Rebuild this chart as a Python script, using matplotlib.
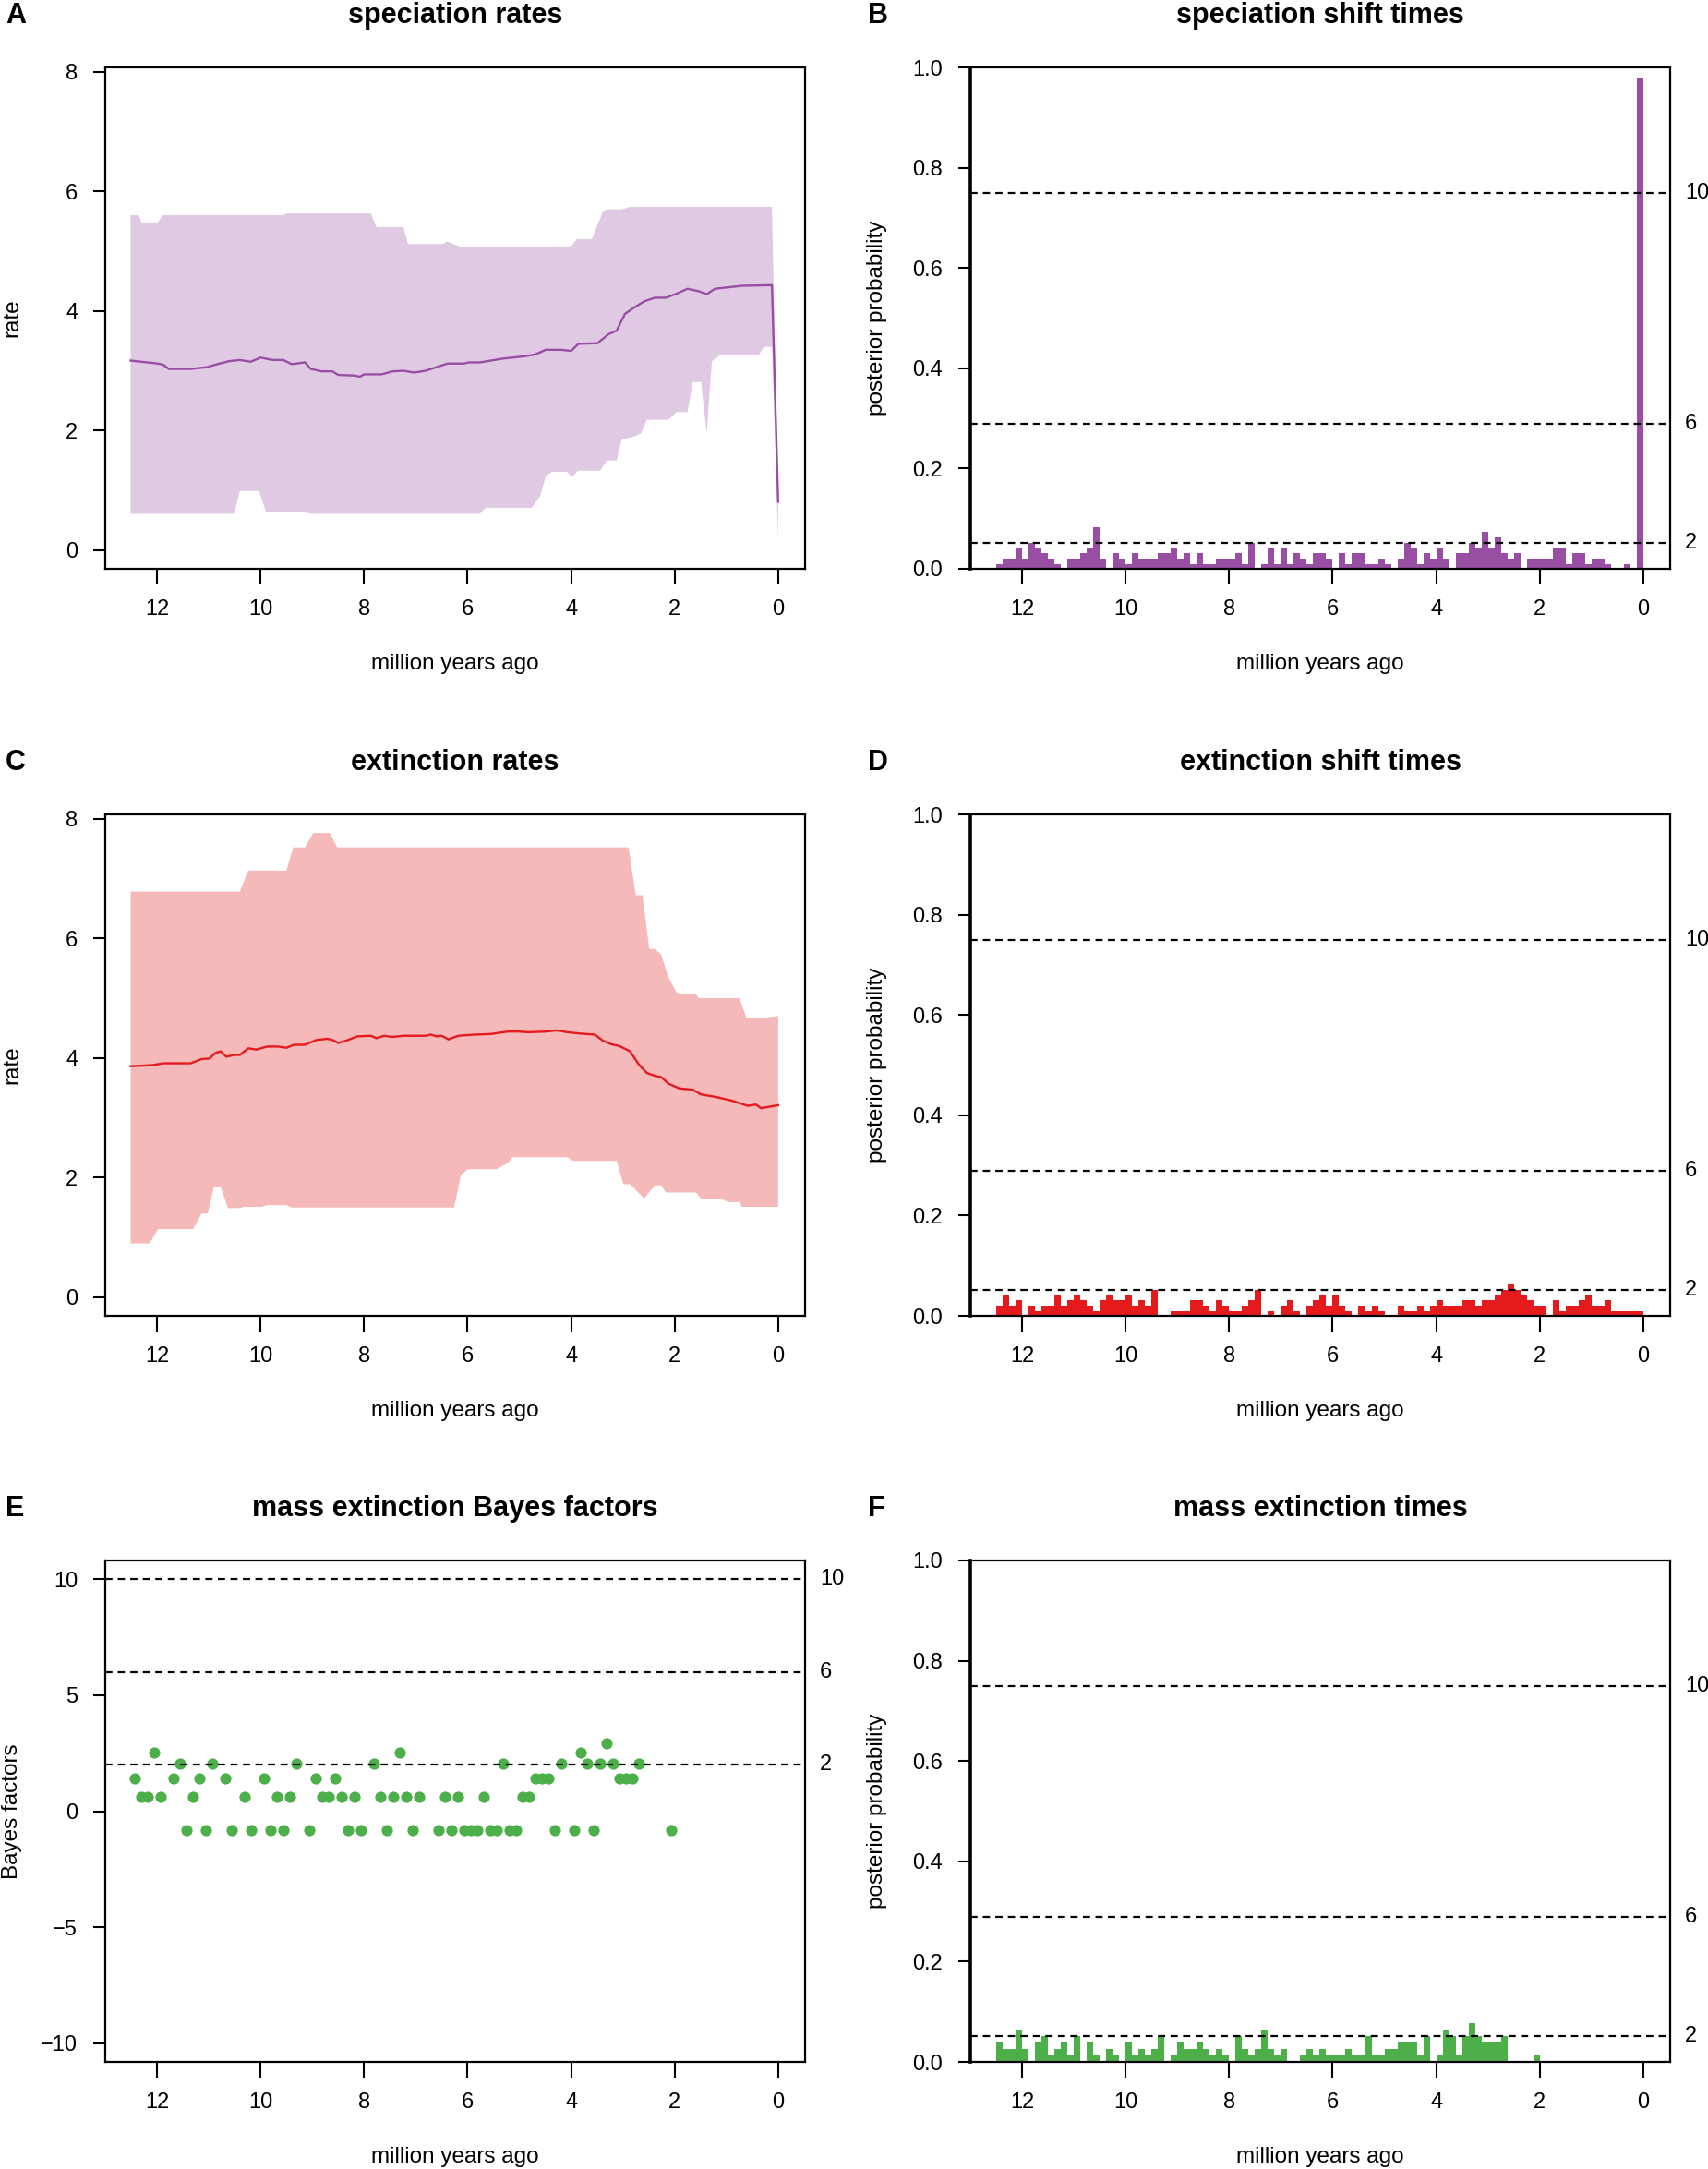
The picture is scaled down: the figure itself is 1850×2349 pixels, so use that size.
import matplotlib.pyplot as plt
import matplotlib.transforms as mtransforms
import numpy as np

plt.rcParams['font.family'] = ['Liberation Sans', 'DejaVu Sans']

# ---- data ----
# speciation rate: posterior mean and 95% band (time in Myr ago)
spec_t = [12.51, 11.98, 11.88, 11.77, 11.35, 11.03, 10.88, 10.61, 10.40, 10.19,
          10.0, 9.77, 9.56, 9.40, 9.14, 9.03, 8.82, 8.61, 8.50, 8.19,
          8.08, 8.0, 7.66, 7.45, 7.24, 7.03, 6.81, 6.60, 6.39, 6.08,
          5.97, 5.76, 5.55, 5.34, 5.13, 4.92, 4.70, 4.49, 4.18, 4.0,
          3.86, 3.49, 3.28, 3.12, 2.96, 2.81, 2.59, 2.38, 2.17, 1.96,
          1.75, 1.54, 1.38, 1.22, 0.91, 0.70, 0.12, 0.0]
spec_mean = [3.17, 3.12, 3.10, 3.03, 3.03, 3.06, 3.10, 3.16, 3.18, 3.15,
             3.22, 3.18, 3.18, 3.11, 3.14, 3.03, 2.99, 2.99, 2.93, 2.92,
             2.90, 2.94, 2.94, 2.99, 3.00, 2.97, 3.00, 3.06, 3.12, 3.12,
             3.14, 3.14, 3.17, 3.20, 3.22, 3.24, 3.27, 3.35, 3.35, 3.33,
             3.45, 3.46, 3.61, 3.67, 3.95, 4.04, 4.16, 4.22, 4.22, 4.29,
             4.37, 4.33, 4.28, 4.37, 4.40, 4.42, 4.43, 0.81]
spec_up_t = [12.51, 12.35, 12.30, 11.98, 11.90, 9.56, 9.50, 7.87, 7.76, 7.24,
             7.15, 6.48, 6.39, 6.28, 6.13, 5.34, 4.0, 3.89, 3.60, 3.39,
             3.31, 3.02, 2.86, 0.12, 0.0]
spec_up = [5.60, 5.60, 5.48, 5.48, 5.60, 5.60, 5.63, 5.63, 5.40, 5.40,
           5.12, 5.12, 5.16, 5.12, 5.07, 5.07, 5.08, 5.20, 5.20, 5.65,
           5.70, 5.70, 5.74, 5.74, 0.95]
spec_lo_t = [12.51, 10.51, 10.40, 10.03, 9.89, 9.14, 9.03, 5.76, 5.65, 4.76,
             4.60, 4.49, 4.37, 4.07, 4.0, 3.86, 3.44, 3.31, 3.12, 3.02,
             2.86, 2.65, 2.54, 2.12, 1.96, 1.75, 1.65, 1.49, 1.38, 1.28,
             1.12, 0.38, 0.27, 0.12, 0.0]
spec_lo = [0.61, 0.61, 0.99, 0.99, 0.63, 0.63, 0.61, 0.61, 0.71, 0.71,
           0.90, 1.24, 1.31, 1.31, 1.22, 1.33, 1.33, 1.50, 1.50, 1.86,
           1.88, 1.95, 2.18, 2.18, 2.31, 2.31, 2.81, 2.81, 1.95, 3.16,
           3.26, 3.26, 3.40, 3.40, 0.15]

# extinction rate
ext_t = [12.51, 12.30, 12.09, 11.88, 11.35, 11.14, 10.98, 10.88, 10.77, 10.66,
         10.51, 10.40, 10.24, 10.08, 9.87, 9.66, 9.50, 9.35, 9.14, 8.92,
         8.71, 8.61, 8.50, 8.34, 8.13, 7.87, 7.76, 7.61, 7.45, 7.24,
         6.81, 6.71, 6.60, 6.50, 6.37, 6.18, 5.86, 5.55, 5.23, 5.02,
         4.81, 4.49, 4.28, 4.07, 3.86, 3.54, 3.39, 3.23, 3.07, 2.86,
         2.70, 2.54, 2.38, 2.26, 2.12, 1.91, 1.65, 1.49, 1.22, 0.91,
         0.59, 0.43, 0.33, 0.0]
ext_mean = [3.86, 3.87, 3.88, 3.91, 3.91, 3.98, 3.99, 4.08, 4.11, 4.02,
            4.05, 4.05, 4.16, 4.14, 4.19, 4.19, 4.17, 4.22, 4.22, 4.30,
            4.32, 4.30, 4.25, 4.29, 4.36, 4.37, 4.33, 4.37, 4.35, 4.37,
            4.37, 4.39, 4.36, 4.37, 4.31, 4.37, 4.39, 4.40, 4.44, 4.44,
            4.43, 4.44, 4.46, 4.43, 4.41, 4.39, 4.29, 4.23, 4.20, 4.11,
            3.90, 3.75, 3.70, 3.68, 3.57, 3.49, 3.47, 3.39, 3.35, 3.29,
            3.20, 3.22, 3.16, 3.21]
ext_up_t = [12.51, 10.40, 10.24, 9.50, 9.37, 9.14, 8.98, 8.66, 8.52, 2.89,
            2.75, 2.62, 2.49, 2.38, 2.26, 2.12, 1.96, 1.86, 1.59, 1.54,
            0.75, 0.61, 0.27, 0.0]
ext_up = [6.78, 6.78, 7.13, 7.13, 7.52, 7.52, 7.76, 7.76, 7.52, 7.52,
          6.72, 6.72, 5.82, 5.82, 5.73, 5.35, 5.09, 5.07, 5.07, 5.00,
          5.00, 4.67, 4.67, 4.70]
ext_lo_t = [12.51, 12.14, 11.98, 11.30, 11.14, 11.02, 10.90, 10.77, 10.63, 10.40,
            10.32, 9.98, 9.87, 9.50, 9.40, 6.26, 6.13, 6.0, 5.44, 5.23,
            5.13, 4.07, 3.97, 3.12, 2.99, 2.86, 2.59, 2.38, 2.26, 2.17,
            1.59, 1.49, 1.12, 0.96, 0.75, 0.70, 0.0]
ext_lo = [0.90, 0.90, 1.14, 1.14, 1.40, 1.40, 1.84, 1.84, 1.49, 1.49,
          1.51, 1.51, 1.54, 1.54, 1.50, 1.50, 2.04, 2.14, 2.14, 2.24,
          2.34, 2.34, 2.28, 2.28, 1.89, 1.89, 1.65, 1.87, 1.87, 1.75,
          1.75, 1.65, 1.65, 1.59, 1.59, 1.51, 1.51]

# posterior probability per time bin (100 bins, 12.5 -> 0 Myr)
spec_shift = [0.010, 0.021, 0.021, 0.042, 0.021, 0.052, 0.042, 0.031, 0.021, 0.010,
              0.0, 0.021, 0.021, 0.031, 0.042, 0.083, 0.021, 0.0, 0.031, 0.021,
              0.010, 0.031, 0.021, 0.021, 0.021, 0.031, 0.031, 0.042, 0.021, 0.031,
              0.010, 0.031, 0.010, 0.010, 0.021, 0.021, 0.021, 0.031, 0.010, 0.052,
              0.0, 0.010, 0.042, 0.010, 0.042, 0.010, 0.031, 0.021, 0.010, 0.031,
              0.031, 0.021, 0.0, 0.031, 0.010, 0.031, 0.031, 0.010, 0.010, 0.021,
              0.010, 0.0, 0.021, 0.052, 0.042, 0.010, 0.031, 0.021, 0.042, 0.021,
              0.0, 0.031, 0.031, 0.052, 0.042, 0.073, 0.042, 0.062, 0.031, 0.021,
              0.031, 0.0, 0.021, 0.021, 0.021, 0.021, 0.042, 0.042, 0.010, 0.031,
              0.031, 0.010, 0.021, 0.021, 0.010, 0.0, 0.0, 0.010, 0.0, 0.980]
ext_shift = [0.021, 0.042, 0.021, 0.031, 0.0, 0.021, 0.010, 0.021, 0.021, 0.042,
             0.021, 0.031, 0.042, 0.031, 0.021, 0.010, 0.031, 0.042, 0.031, 0.031,
             0.042, 0.021, 0.031, 0.021, 0.052, 0.0, 0.0, 0.010, 0.010, 0.010,
             0.031, 0.031, 0.021, 0.010, 0.031, 0.021, 0.010, 0.010, 0.021, 0.031,
             0.052, 0.0, 0.010, 0.0, 0.021, 0.031, 0.010, 0.0, 0.021, 0.031,
             0.042, 0.021, 0.042, 0.021, 0.010, 0.0, 0.021, 0.010, 0.021, 0.010,
             0.0, 0.0, 0.021, 0.010, 0.010, 0.021, 0.010, 0.021, 0.031, 0.021,
             0.021, 0.021, 0.031, 0.031, 0.021, 0.031, 0.031, 0.042, 0.052, 0.062,
             0.052, 0.042, 0.031, 0.021, 0.021, 0.0, 0.031, 0.010, 0.021, 0.021,
             0.031, 0.042, 0.021, 0.021, 0.031, 0.010, 0.010, 0.010, 0.010, 0.010]
mass_prob = [0.039, 0.026, 0.026, 0.065, 0.026, 0.0, 0.039, 0.052, 0.013, 0.026,
             0.039, 0.013, 0.052, 0.0, 0.039, 0.013, 0.0, 0.026, 0.013, 0.0,
             0.039, 0.013, 0.026, 0.013, 0.026, 0.052, 0.0, 0.013, 0.039, 0.026,
             0.026, 0.039, 0.026, 0.013, 0.026, 0.013, 0.0, 0.052, 0.026, 0.013,
             0.026, 0.065, 0.026, 0.013, 0.026, 0.0, 0.0, 0.013, 0.026, 0.013,
             0.026, 0.013, 0.013, 0.013, 0.026, 0.013, 0.013, 0.052, 0.013, 0.013,
             0.026, 0.026, 0.039, 0.039, 0.039, 0.013, 0.052, 0.0, 0.013, 0.065,
             0.052, 0.013, 0.052, 0.078, 0.052, 0.039, 0.039, 0.039, 0.052, 0.0,
             0.0, 0.0, 0.0, 0.013, 0.0, 0.0, 0.0, 0.0, 0.0, 0.0,
             0.0, 0.0, 0.0, 0.0, 0.0, 0.0, 0.0, 0.0, 0.0, 0.0]
nan = np.nan
mass_bf = [1.43, 0.61, 0.61, 2.52, 0.61, nan, 1.43, 2.05, -0.82, 0.61,
           1.43, -0.82, 2.05, nan, 1.43, -0.82, nan, 0.61, -0.82, nan,
           1.43, -0.82, 0.61, -0.82, 0.61, 2.05, nan, -0.82, 1.43, 0.61,
           0.61, 1.43, 0.61, -0.82, 0.61, -0.82, nan, 2.05, 0.61, -0.82,
           0.61, 2.52, 0.61, -0.82, 0.61, nan, nan, -0.82, 0.61, -0.82,
           0.61, -0.82, -0.82, -0.82, 0.61, -0.82, -0.82, 2.05, -0.82, -0.82,
           0.61, 0.61, 1.43, 1.43, 1.43, -0.82, 2.05, nan, -0.82, 2.52,
           2.05, -0.82, 2.05, 2.91, 2.05, 1.43, 1.43, 1.43, 2.05, nan,
           nan, nan, nan, -0.82, nan, nan, nan, nan, nan, nan,
           nan, nan, nan, nan, nan, nan, nan, nan, nan, nan]

bf_levels = [10, 6, 2]
prob_levels = [0.75, 0.29, 0.052]

# ---- layout ----
W, H = 1850, 2349
fig = plt.figure(figsize=(W / 100, H / 100), dpi=100)

PURPLE = '#984EA3'
RED = '#E41A1C'
GREEN = '#4DAF4A'

bin_w = 0.125
centers = 12.5 - bin_w * (np.arange(len(spec_shift)) + 0.5)

cols = [114, 1051]
rows = [73, 882, 1690]
AW, AH = 758, 543


def make_ax(col, row, letter, title, ylabel, yticks, ylim, yfmt=None, thick_left=False):
    left, top = cols[col], rows[row]
    ax = fig.add_axes([left / W, 1 - (top + AH) / H, AW / W, AH / H])
    ax.set_xlim(13.0, -0.52)
    ax.set_ylim(*ylim)
    ax.set_xticks([12, 10, 8, 6, 4, 2, 0])
    ax.set_yticks(yticks)
    if yfmt:
        ax.set_yticklabels([yfmt % v for v in yticks])
    ax.tick_params(axis='x', direction='out', length=12, width=1.5, labelsize=17, pad=12)
    ax.tick_params(axis='y', direction='out', length=9.5, width=1.5, labelsize=17, pad=12)
    for s in ax.spines.values():
        s.set_linewidth(1.6)
    if thick_left:
        ax.spines['left'].set_linewidth(2.6)
    # texts in figure pixels
    fig.text((left + AW / 2) / W, 1 - (top - 56) / H, title, ha='center', va='center',
             fontsize=22, fontweight='bold')
    fig.text((6 if col == 0 else 940) / W, 1 - (top - 56) / H, letter, ha='left',
             va='center', fontsize=22, fontweight='bold')
    fig.text((left + AW / 2) / W, 1 - (top + AH + 103) / H, 'million years ago',
             ha='center', va='center', fontsize=17.5)
    fig.text((left - 101) / W, 1 - (top + AH / 2) / H, ylabel, ha='center',
             va='center', rotation=90, fontsize=17.5)
    return ax


def add_levels(ax, ys):
    trans = mtransforms.blended_transform_factory(ax.transAxes, ax.transData)
    for y, lab in zip(ys, bf_levels):
        ax.axhline(y, color='black', lw=1.6, dashes=(3.5, 2.6), zorder=4)
        ax.text(1 + 16 / AW, y, str(lab), transform=trans, ha='left', va='center',
                fontsize=17, clip_on=False)


def rate_panel(ax, t, mean, up_t, up, lo_t, lo, color):
    poly_x = np.concatenate([up_t, lo_t[::-1]])
    poly_y = np.concatenate([up, lo[::-1]])
    ax.fill(poly_x, poly_y, color=color, alpha=0.3, lw=0, zorder=1)
    ax.plot(t, mean, color=color, lw=1.7, zorder=2)


def prob_panel(ax, probs, color):
    ax.bar(centers, probs, width=bin_w, color=color, lw=0, zorder=2)
    add_levels(ax, prob_levels)


# A
axA = make_ax(0, 0, 'A', 'speciation rates', 'rate', [0, 2, 4, 6, 8], (-0.31, 8.07))
rate_panel(axA, spec_t, spec_mean, spec_up_t, spec_up, spec_lo_t, spec_lo, PURPLE)

# B
axB = make_ax(1, 0, 'B', 'speciation shift times', 'posterior probability',
              [0, 0.2, 0.4, 0.6, 0.8, 1.0], (0, 1), '%.1f', thick_left=True)
prob_panel(axB, spec_shift, PURPLE)

# C
axC = make_ax(0, 1, 'C', 'extinction rates', 'rate', [0, 2, 4, 6, 8], (-0.31, 8.07))
rate_panel(axC, ext_t, ext_mean, ext_up_t, ext_up, ext_lo_t, ext_lo, RED)

# D
axD = make_ax(1, 1, 'D', 'extinction shift times', 'posterior probability',
              [0, 0.2, 0.4, 0.6, 0.8, 1.0], (0, 1), '%.1f', thick_left=True)
prob_panel(axD, ext_shift, RED)

# E
axE = make_ax(0, 2, 'E', 'mass extinction Bayes factors', 'Bayes factors',
              [-10, -5, 0, 5, 10], (-10.8, 10.8))
axE.plot(centers, mass_bf, 'o', color=GREEN, markersize=8.8, markeredgewidth=0, zorder=2)
add_levels(axE, bf_levels)

# F
axF = make_ax(1, 2, 'F', 'mass extinction times', 'posterior probability',
              [0, 0.2, 0.4, 0.6, 0.8, 1.0], (0, 1), '%.1f', thick_left=True)
prob_panel(axF, mass_prob, GREEN)

fig.savefig('out.png', dpi=100)
